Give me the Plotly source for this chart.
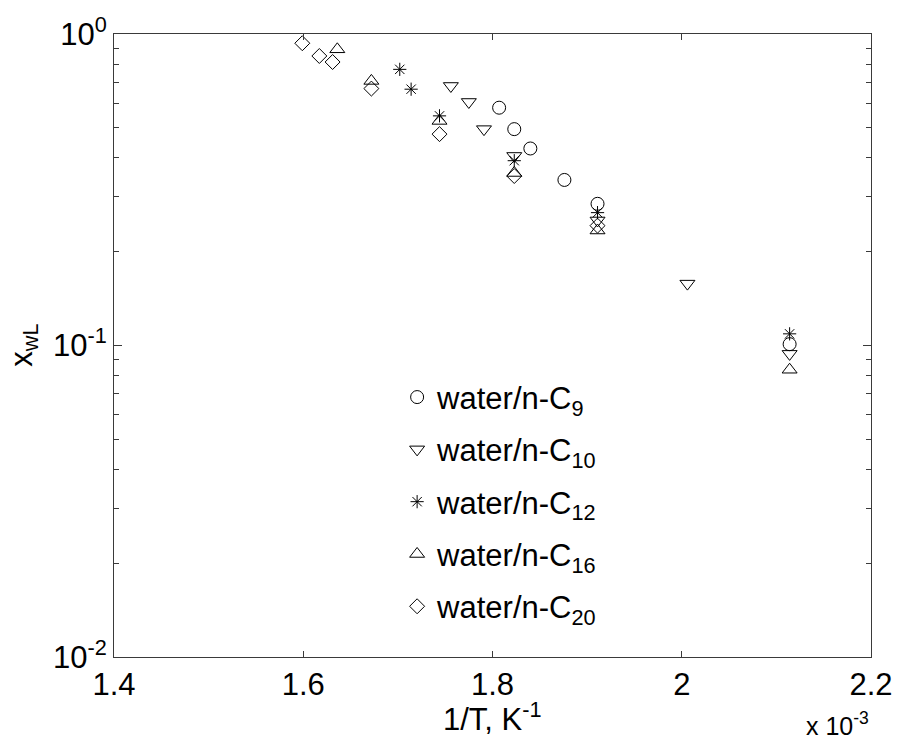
import plotly.graph_objects as go

# 1/T in units of 1e-3 K^-1, and liquid-phase water mole fraction x_wL
c9_invT = [1.807, 1.823, 1.840, 1.876, 1.911, 2.114]
c9_xwL = [0.580, 0.495, 0.429, 0.340, 0.285, 0.101]

c10_invT = [1.756, 1.775, 1.791, 1.823, 1.911, 2.006, 2.114]
c10_xwL = [0.681, 0.605, 0.495, 0.406, 0.252, 0.158, 0.094]

c12_invT = [1.702, 1.714, 1.744, 1.823, 1.911, 2.114]
c12_xwL = [0.770, 0.665, 0.546, 0.392, 0.267, 0.109]

c16_invT = [1.636, 1.672, 1.744, 1.823, 1.911, 2.114]
c16_xwL = [0.893, 0.707, 0.526, 0.358, 0.234, 0.0836]

c20_invT = [1.599, 1.617, 1.631, 1.672, 1.744, 1.823, 1.911]
c20_xwL = [0.934, 0.850, 0.813, 0.668, 0.477, 0.350, 0.2425]

series_names = ["water/n-C<sub>9</sub>", "water/n-C<sub>10</sub>",
                "water/n-C<sub>12</sub>", "water/n-C<sub>16</sub>",
                "water/n-C<sub>20</sub>"]
series_x = [c9_invT, c10_invT, c12_invT, c16_invT, c20_invT]
series_y = [c9_xwL, c10_xwL, c12_xwL, c16_xwL, c20_xwL]
symbols = ["circle-open", "triangle-down-open", "asterisk-open",
           "triangle-up-open", "diamond-open"]
sizes = [13, 13, 11, 13, 11.5]

x_ticks = [1.4, 1.6, 1.8, 2.0, 2.2]
y_ticks = [0.01, 0.1, 1]
y_ticktext = ["10<sup>-2</sup>", "10<sup>-1</sup>", "10<sup>0</sup>"]
y_minor = [m * d for d in (0.01, 0.1) for m in range(2, 10)]

FONT = "Liberation Sans, Arial, sans-serif"
FS = 31
AXIS_COLOR = "#3a3a3a"

fig = go.Figure()
for i, (name, xs, ys, sym, sz) in enumerate(zip(series_names, series_x, series_y, symbols, sizes)):
    fig.add_trace(go.Scatter(
        x=xs, y=ys, mode="markers", name=name, legendgroup=f"g{i}",
        marker=dict(symbol=sym, size=sz, color="black",
                    line=dict(color="black", width=1)),
    ))

fig.update_layout(
    width=905, height=742,
    margin=dict(l=114, r=25, t=33, b=85),
    paper_bgcolor="white", plot_bgcolor="white",
    font=dict(family=FONT, size=FS, color="black"),
    showlegend=True,
    legend=dict(x=0.374, y=0.46, xanchor="left", yanchor="top",
                bgcolor="rgba(0,0,0,0)", borderwidth=0,
                font=dict(family=FONT, size=FS, color="black"),
                traceorder="grouped", tracegroupgap=9),
    xaxis=dict(range=[1.4, 2.2], tickvals=x_ticks, ticks="inside", ticklen=6,
               tickcolor=AXIS_COLOR, showline=True, linecolor=AXIS_COLOR,
               linewidth=1, mirror="allticks", showgrid=False, zeroline=False,
               tickfont=dict(size=FS)),
    yaxis=dict(type="log", range=[-2, 0], tickvals=y_ticks, ticktext=y_ticktext,
               ticks="inside", ticklen=8, tickcolor=AXIS_COLOR, showline=True,
               linecolor=AXIS_COLOR, linewidth=1, mirror="allticks",
               showgrid=False, zeroline=False, tickfont=dict(size=FS),
               minor=dict(tickvals=y_minor, ticks="inside", ticklen=5,
                          tickcolor=AXIS_COLOR, showgrid=False)),
    annotations=[
        dict(text="1/T, K<sup>-1</sup>", xref="paper", yref="paper",
             x=0.5, y=-0.097, xanchor="center", yanchor="middle",
             showarrow=False, font=dict(size=FS)),
        dict(text="x<sub>wL</sub>", xref="paper", yref="paper",
             x=-0.12, y=0.5, xanchor="center", yanchor="middle",
             textangle=-90, showarrow=False, font=dict(size=FS)),
        dict(text="x 10<sup>-3</sup>", xref="paper", yref="paper",
             x=1.0, y=-0.136, xanchor="right", yanchor="bottom",
             showarrow=False, font=dict(size=25)),
    ],
)

fig.write_html("out.html")
